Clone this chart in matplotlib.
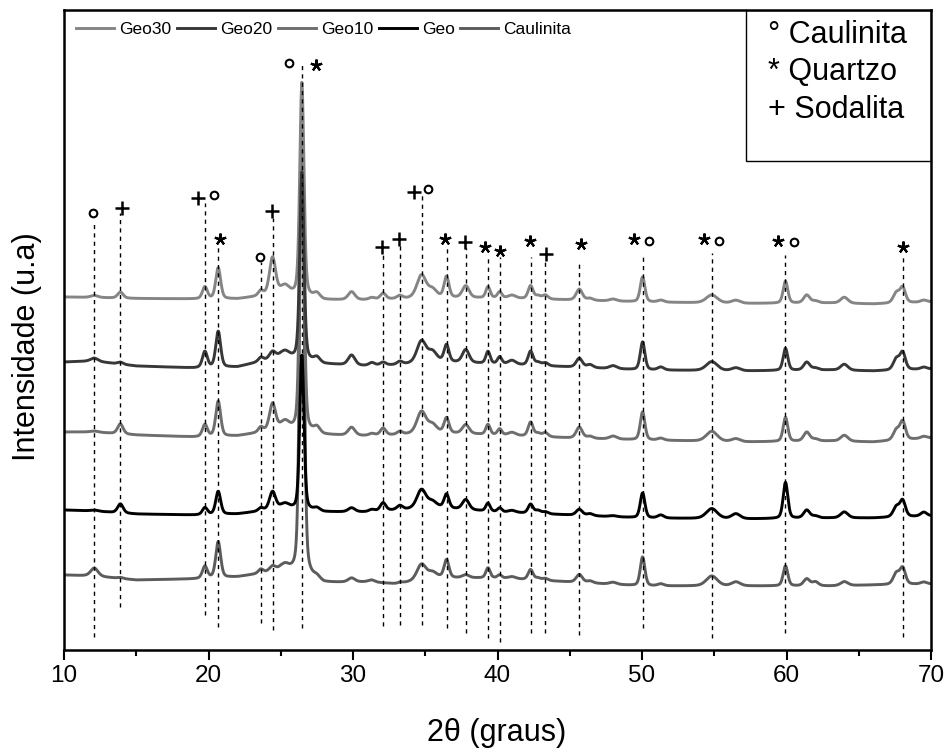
import matplotlib

matplotlib.use("Agg")
import matplotlib.pyplot as plt
import numpy as np
from matplotlib.patches import Rectangle

plt.rcParams["font.family"] = ["Liberation Sans", "DejaVu Sans"]

# --- data (intensity in arbitrary units) ---
peak_pos = [12.1, 13.9, 19.75, 20.67, 23.62, 24.43, 25.3, 26.46, 27.5, 29.9,
            31.3, 32.08, 33.24, 34.74, 35.5, 36.47, 37.8, 39.34, 40.15, 41.0,
            42.29, 42.8, 43.31, 45.66, 46.4, 48.0, 50.04, 51.3, 54.83, 56.5,
            59.93, 61.4, 62.0, 64.0, 67.6, 68.04, 69.5]
peak_fwhm = [0.6, 0.45, 0.4, 0.4, 0.4, 0.5, 0.7, 0.34, 0.5, 0.55,
             0.5, 0.45, 0.45, 0.75, 0.7, 0.4, 0.55, 0.35, 0.35, 0.6,
             0.4, 0.45, 0.45, 0.5, 0.5, 0.6, 0.38, 0.5, 0.9, 0.7,
             0.38, 0.5, 0.5, 0.6, 0.5, 0.45, 0.5]

geo30_h = [2, 6, 12, 31, 5, 37, 8, 214, 5, 8, 2, 6, 3, 23, 8, 21, 12, 11, 6, 3,
           13, 3, 4, 11, 2, 2, 25, 2, 8, 3, 22, 8, 2, 6, 10, 15, 2]
geo20_h = [3, 2, 16, 36, 4, 7, 6, 188, 5, 10, 3, 3, 3, 22, 10, 17, 13, 12, 7, 4,
           14, 3, 3, 9, 3, 3, 28, 3, 9, 3, 22, 8, 2, 6, 11, 17, 2]
geo10_h = [1, 10, 12, 35, 5, 27, 8, 300, 6, 8, 2, 7, 3, 22, 8, 15, 9, 10, 6, 3,
           14, 3, 4, 11, 2, 3, 28, 2, 10, 3, 24, 9, 2, 6, 10, 18, 2]
geo_h = [1, 9, 7, 23, 3, 18, 5, 155, 3, 4, 2, 8, 4, 19, 6, 14, 10, 8, 4, 2,
         9, 3, 2, 6, 2, 1, 25, 3, 10, 5, 36, 8, 2, 6, 10, 16, 4]
caul_h = [8, 1, 12, 36, 4, 5, 6, 472, 3, 4, 2, 0, 1, 16, 6, 18, 3, 10, 3, 2,
          10, 2, 2, 8, 2, 2, 29, 2, 10, 4, 20, 7, 4, 4, 11, 16, 2]

base_x = [10, 12, 15, 19, 22, 25, 28, 31, 33, 36, 40, 45, 50, 57, 63, 66, 70]
geo30_base = [353, 352.5, 351.5, 351, 351, 356, 350, 350, 351, 352, 352, 350, 348, 346.5, 347, 346, 348]
geo20_base = [288, 289, 284, 282, 283, 293, 286, 284, 285, 288, 286, 283, 280, 279, 280, 279, 281]
geo10_base = [218, 218, 215, 213, 214, 220, 215, 214, 215, 217, 215, 212, 210, 208, 209, 208, 212]
geo_base = [140, 139, 136, 135, 136, 141, 138, 138, 140, 142, 138, 135, 132, 131, 132, 132, 134]
caul_base = [75, 74, 70, 71, 73, 79, 67, 68, 66, 72, 72, 68, 64, 64, 64, 65, 66]

# reference lines for the indexed reflections
ref_pos = [12.1, 13.9, 19.75, 20.67, 23.62, 24.43, 26.46, 32.08, 33.24, 34.74, 36.47,
           37.8, 39.34, 40.15, 42.29, 43.31, 45.66, 50.04, 54.83, 59.93, 68.04]
ref_top = [427, 437, 447, 405, 388, 432, 585, 398, 405, 455, 405,
           402, 395, 393, 393, 388, 390, 397, 397, 395, 393]
ref_bottom = [13, 43, 35, 23, 27, 20, 22, 24, 25, 25, 22,
              17, 12, 8, 17, 17, 15, 22, 12, 17, 13]

# phase symbols
caulinita_x = [12.03, 20.37, 23.55, 25.56, 35.19, 50.46, 55.30, 60.50]
caulinita_y = [437, 455, 393, 587, 461, 409, 409, 408]
quartzo_x = [20.79, 27.41, 36.40, 39.16, 40.15, 42.23, 45.80, 49.42, 54.26, 59.40, 68.04]
quartzo_y = [411, 585, 411, 403, 399, 409, 406, 411, 411, 409, 403]
sodalita_x = [14.03, 19.27, 24.41, 32.04, 33.17, 34.20, 37.73, 43.38]
sodalita_y = [442, 452, 439, 403, 411, 458, 408, 396]

legend_labels = ["Geo30", "Geo20", "Geo10", "Geo", "Caulinita"]
phase_labels = ["° Caulinita", "* Quartzo", "+ Sodalita"]


def _profile(x, heights, base):
    y = np.interp(x, base_x, base)
    for c, h, w in zip(peak_pos, heights, peak_fwhm):
        d = (x - c) / (w / 2.0)
        y = y + h * (0.35 / (1.0 + d ** 2) + 0.65 * np.exp(-np.log(2) * d ** 2))
    return y


def main() -> None:
    fig = plt.figure(figsize=(9.5, 7.56), dpi=100)
    ax = fig.add_axes([0.0674, 0.1402, 0.9126, 0.8466])

    two_theta = np.linspace(10, 70, 3001)
    traces = {
        "Caulinita": (caul_h, caul_base, "#5c5c5c"),
        "Geo10": (geo10_h, geo10_base, "#6e6e6e"),
        "Geo30": (geo30_h, geo30_base, "#858585"),
        "Geo20": (geo20_h, geo20_base, "#383838"),
        "Geo": (geo_h, geo_base, "#000000"),
    }
    handles = {}
    for name, (heights, base, color) in traces.items():
        (line,) = ax.plot(two_theta, _profile(two_theta, heights, base),
                          color=color, lw=2.1, label=name)
        handles[name] = line

    ax.vlines(ref_pos, ref_bottom, ref_top, colors="black",
              linestyles=(0, (3, 3)), lw=1.0, zorder=3)

    ax.plot(caulinita_x, caulinita_y, ls="none", marker="o", ms=5.5,
            mfc="white", mec="black", mew=1.5, zorder=4)
    ax.plot(quartzo_x, quartzo_y, ls="none", marker=(5, 2, 0), ms=8.5,
            mec="black", mew=1.6, zorder=4)
    ax.plot(sodalita_x, sodalita_y, ls="none", marker="+", ms=10,
            mec="black", mew=1.8, zorder=4)

    ax.legend([handles[n] for n in legend_labels], legend_labels,
              loc="upper left", ncol=5, frameon=False, fontsize=12.5,
              handlelength=2.2, handletextpad=0.3, columnspacing=0.3,
              borderaxespad=0.3)

    ax.add_patch(Rectangle((0.787, 0.764), 0.213, 0.236, transform=ax.transAxes,
                           fill=False, ec="black", lw=1.0))
    for label, yf in zip(phase_labels, [0.961, 0.903, 0.844]):
        ax.text(0.812, yf, label, transform=ax.transAxes, fontsize=22,
                ha="left", va="center")

    ax.set_xlim(10, 70)
    ax.set_ylim(0, 640)
    ax.set_xticks(np.arange(10, 71, 10))
    ax.set_xticks(np.arange(15, 70, 10), minor=True)
    ax.set_yticks([])
    ax.tick_params(axis="x", which="major", direction="out", length=7,
                   width=1.5, labelsize=17.5, pad=4)
    ax.tick_params(axis="x", which="minor", direction="out", length=4, width=1.5)
    for spine in ax.spines.values():
        spine.set_linewidth(1.8)

    fig.text(497 / 950, 1 - 733 / 756, "2θ (graus)", fontsize=22,
             ha="center", va="center")
    fig.text(27 / 950, 1 - 347 / 756, "Intensidade (u.a)", fontsize=22,
             rotation=90, ha="center", va="center")

    fig.savefig("out.png", dpi=100)
    plt.close(fig)


if __name__ == "__main__":
    main()
